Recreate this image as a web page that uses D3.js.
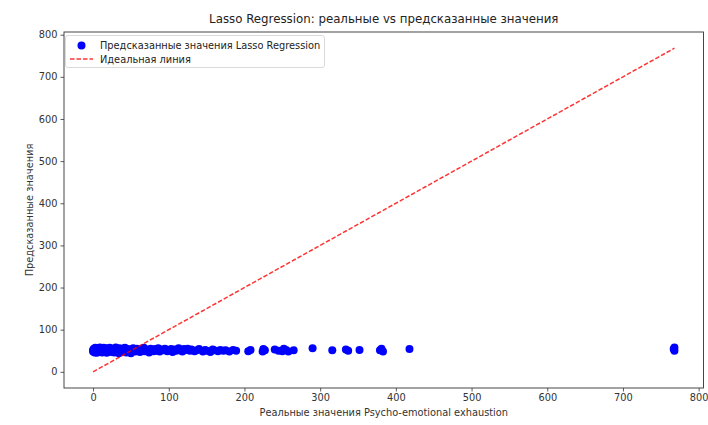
<!DOCTYPE html>
<html><head><meta charset="utf-8">
<script src="https://cdn.jsdelivr.net/npm/d3@7"></script>
<style>body{margin:0;background:#fff;}svg{display:block;font-family:"DejaVu Sans",sans-serif;}</style>
</head><body>
<script>
const actualValues = [0,0,1,1,2,2,3,3,4,5,5,6,7,8,8,9,10,10,11,12,13,14,15,15,16,17,18,19,20,21,22,23,24,25,26,27,28,29,30,31,32,33,34,35,36,37,38,40,41,42,44,45,46,48,50,51,53,55,56,58,60,62,63,65,67,68,70,72,74,76,78,80,82,84,86,88,90,93,95,98,100,103,105,108,110,113,115,118,120,123,125,128,130,134,137,140,145,148,150,155,158,160,165,168,172,175,180,185,189,
  205,208,224,225,227,240,245,250,252,255,258,265,290,316,334,337,352,379,381,383,418,767,768,768];
const predictedValues = [52,48,55,50,46,53,57,49,51,45,54,56,50,47,53,58,49,52,55,46,51,57,48,53,50,56,45,52,54,49,57,51,47,55,50,53,46,52,58,49,54,51,44,56,50,53,48,55,51,57,46,52,54,49,44,53,56,50,48,55,52,47,54,50,57,49,53,51,46,55,52,49,54,50,56,48,53,51,55,49,52,54,47,53,50,56,51,48,54,52,55,50,53,49,51,54,48,52,50,47,53,51,49,52,50,51,48,52,50,
  49,52,48,54,51,53,50,49,55,52,48,51,56,51,53,50,52,51,55,48,54,54,58,50];
const idealLine = [0, 768];
const xTicks = [0,100,200,300,400,500,600,700,800];
const yTicks = [0,100,200,300,400,500,600,700,800];
const titleText = "Lasso Regression: реальные vs предсказанные значения";
const xLabel = "Реальные значения Psycho-emotional exhaustion";
const yLabel = "Предсказанные значения";
const legendLabels = ["Предсказанные значения Lasso Regression", "Идеальная линия"];

const W = 708, H = 425;
const m = {left: 64, right: 4.5, top: 32, bottom: 37};
const svg = d3.select("body").append("svg").attr("width", W).attr("height", H);
const x = d3.scaleLinear().domain([-38.4, 806.4]).range([m.left, W - m.right]);
const y = d3.scaleLinear().domain([-38.4, 806.4]).range([H - m.bottom, m.top]);

const g = svg.append("g");
const pts = actualValues.map((v, i) => [v, predictedValues[i]]);
g.selectAll("circle.pt").data(pts).join("circle").attr("class","pt")
  .attr("cx", d => x(d[0])).attr("cy", d => y(d[1])).attr("r", 4).attr("fill", "#0000ff");
g.append("line").attr("x1", x(idealLine[0])).attr("y1", y(idealLine[0]))
  .attr("x2", x(idealLine[1])).attr("y2", y(idealLine[1]))
  .attr("stroke", "#ff0000").attr("stroke-opacity", 0.8).attr("stroke-width", 1.5).attr("stroke-dasharray", "4.5,2");

const xa = svg.append("g").attr("transform", `translate(0,${H - m.bottom})`)
  .call(d3.axisBottom(x).tickValues(xTicks).tickSize(3.5).tickPadding(3));
const ya = svg.append("g").attr("transform", `translate(${m.left},0)`)
  .call(d3.axisLeft(y).tickValues(yTicks).tickSize(3.5).tickPadding(3));
[xa, ya].forEach(a => { a.select(".domain").remove(); a.selectAll("text").attr("font-size", 9.8).attr("fill", "#333").attr("font-family", "DejaVu Sans"); a.selectAll("line").attr("stroke", "#333").attr("stroke-width", 0.8); });
svg.append("rect").attr("x", m.left).attr("y", m.top).attr("width", W - m.right - m.left).attr("height", H - m.bottom - m.top)
  .attr("fill", "none").attr("stroke", "#333").attr("stroke-width", 0.9);

svg.append("text").attr("x", (m.left + W - m.right) / 2).attr("y", 23).attr("text-anchor", "middle")
  .attr("font-size", 11.8).attr("fill", "#222").text(titleText);
svg.append("text").attr("x", (m.left + W - m.right) / 2).attr("y", 416).attr("text-anchor", "middle")
  .attr("font-size", 9.8).attr("fill", "#333").text(xLabel);
svg.append("text").attr("transform", `translate(33,${(m.top + H - m.bottom) / 2}) rotate(-90)`).attr("text-anchor", "middle")
  .attr("font-size", 9.8).attr("fill", "#333").text(yLabel);

const lg = svg.append("g");
lg.append("rect").attr("x", 65.5).attr("y", 35.5).attr("width", 259).attr("height", 32).attr("rx", 2.5)
  .attr("fill", "#fff").attr("fill-opacity", 0.8).attr("stroke", "#d0d0d0").attr("stroke-width", 0.8);
lg.append("circle").attr("cx", 81.5).attr("cy", 45.5).attr("r", 4).attr("fill", "#0000ff");
lg.append("line").attr("x1", 70).attr("x2", 93).attr("y1", 59).attr("y2", 59)
  .attr("stroke", "#ff0000").attr("stroke-opacity", 0.8).attr("stroke-width", 1.5).attr("stroke-dasharray", "4.5,2");
lg.selectAll("text.lt").data(legendLabels).join("text").attr("class","lt")
  .attr("x", 100).attr("y", (d, i) => 49 + i * 13.8).attr("font-size", 9.8).attr("fill", "#222").text(d => d);
</script>
</body></html>
